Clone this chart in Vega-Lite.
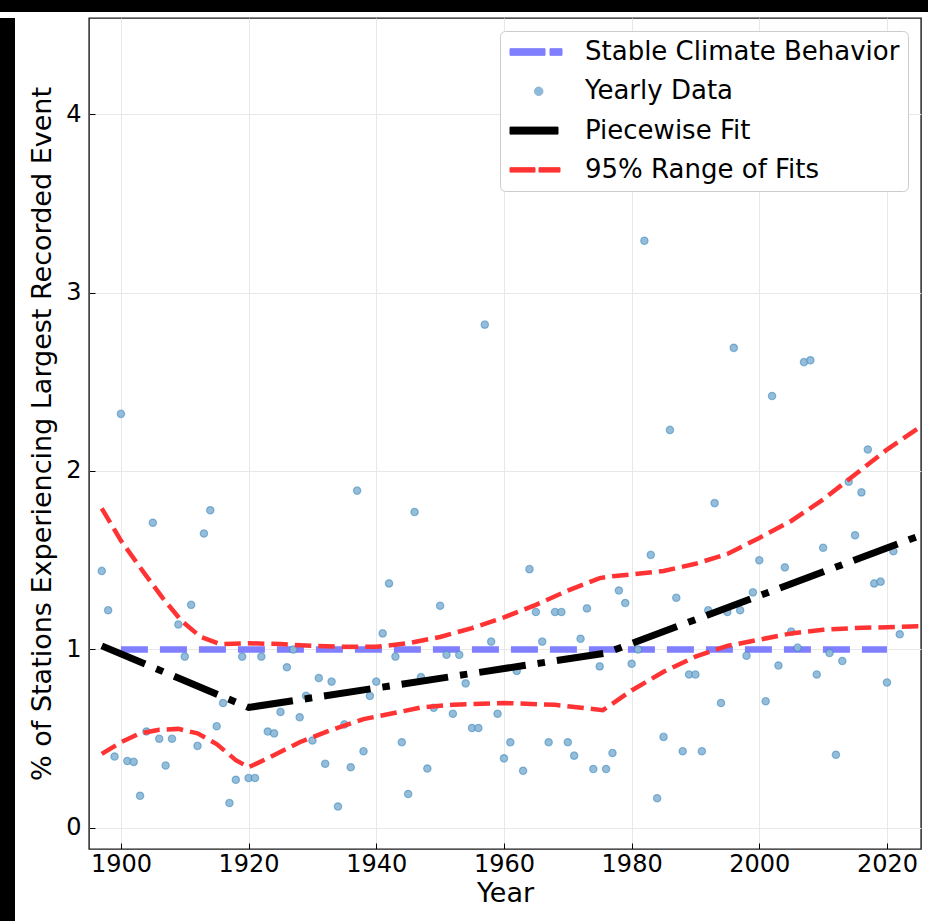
{
  "$schema": "https://vega.github.io/schema/vega-lite/v6.json",
  "background": "white",
  "padding": 0,
  "spacing": 5,
  "resolve": {"scale": {"color": "independent"}, "legend": {"color": "independent"}},
  "config": {
    "view": {"stroke": null},
    "font": "DejaVu Sans",
    "axis": {
      "labelFont": "DejaVu Sans", "labelFontSize": 24, "labelColor": "black",
      "titleFont": "DejaVu Sans", "titleFontSize": 27, "titleFontWeight": "normal", "titleColor": "black",
      "domain": false,
      "grid": true, "gridColor": "#e8e8e8", "gridWidth": 1,
      "ticks": true, "tickColor": "black", "tickSize": -6, "tickWidth": 1
    },
    "legend": {
      "orient": "top-right", "offset": 13, "padding": 8, "rowPadding": 13.3,
      "symbolSize": 400, "symbolStrokeWidth": 0,
      "labelFont": "DejaVu Sans", "labelFontSize": 26, "labelColor": "black",
      "labelOffset": 51, "labelLimit": 600,
      "fillColor": "white", "strokeColor": "#cccccc", "cornerRadius": 5, "strokeWidth": 1
    }
  },
  "datasets": {
    "pts": [
      {"year":1897,"value":1.44},{"year":1898,"value":1.22},{"year":1899,"value":0.40},{"year":1900,"value":2.32},
      {"year":1901,"value":0.375},{"year":1902,"value":0.37},{"year":1903,"value":0.18},{"year":1904,"value":0.54},
      {"year":1905,"value":1.71},{"year":1906,"value":0.50},{"year":1907,"value":0.35},{"year":1908,"value":0.50},
      {"year":1909,"value":1.14},{"year":1910,"value":0.96},{"year":1911,"value":1.25},{"year":1912,"value":0.46},
      {"year":1913,"value":1.65},{"year":1914,"value":1.78},{"year":1915,"value":0.57},{"year":1916,"value":0.70},
      {"year":1917,"value":0.14},{"year":1918,"value":0.27},{"year":1919,"value":0.96},{"year":1920,"value":0.28},
      {"year":1921,"value":0.28},{"year":1922,"value":0.96},{"year":1923,"value":0.54},{"year":1924,"value":0.53},
      {"year":1925,"value":0.65},{"year":1926,"value":0.90},{"year":1927,"value":1.00},{"year":1928,"value":0.62},
      {"year":1929,"value":0.74},{"year":1930,"value":0.49},{"year":1931,"value":0.84},{"year":1932,"value":0.36},
      {"year":1933,"value":0.82},{"year":1934,"value":0.12},{"year":1935,"value":0.58},{"year":1936,"value":0.34},
      {"year":1937,"value":1.89},{"year":1938,"value":0.43},{"year":1939,"value":0.74},{"year":1940,"value":0.82},
      {"year":1941,"value":1.09},{"year":1942,"value":1.37},{"year":1943,"value":0.96},{"year":1944,"value":0.48},
      {"year":1945,"value":0.19},{"year":1946,"value":1.77},{"year":1947,"value":0.845},{"year":1948,"value":0.333},
      {"year":1949,"value":0.673},{"year":1950,"value":1.245},{"year":1951,"value":0.97},{"year":1952,"value":0.64},
      {"year":1953,"value":0.97},{"year":1954,"value":0.81},{"year":1955,"value":0.56},{"year":1956,"value":0.56},
      {"year":1957,"value":2.82},{"year":1958,"value":1.044},{"year":1959,"value":0.64},{"year":1960,"value":0.39},
      {"year":1961,"value":0.48},{"year":1962,"value":0.88},{"year":1963,"value":0.32},{"year":1964,"value":1.45},
      {"year":1965,"value":1.21},{"year":1966,"value":1.044},{"year":1967,"value":0.48},{"year":1968,"value":1.21},
      {"year":1969,"value":1.21},{"year":1970,"value":0.48},{"year":1971,"value":0.405},{"year":1972,"value":1.06},
      {"year":1973,"value":1.23},{"year":1974,"value":0.33},{"year":1975,"value":0.905},{"year":1976,"value":0.33},
      {"year":1977,"value":0.42},{"year":1978,"value":1.33},{"year":1979,"value":1.26},{"year":1980,"value":0.92},
      {"year":1981,"value":1.0},{"year":1982,"value":3.29},{"year":1983,"value":1.53},{"year":1984,"value":0.166},
      {"year":1985,"value":0.51},{"year":1986,"value":2.23},{"year":1987,"value":1.29},{"year":1988,"value":0.43},
      {"year":1989,"value":0.86},{"year":1990,"value":0.86},{"year":1991,"value":0.43},{"year":1992,"value":1.22},
      {"year":1993,"value":1.82},{"year":1994,"value":0.70},{"year":1995,"value":1.21},{"year":1996,"value":2.69},
      {"year":1997,"value":1.22},{"year":1998,"value":0.965},{"year":1999,"value":1.32},{"year":2000,"value":1.50},
      {"year":2001,"value":0.71},{"year":2002,"value":2.42},{"year":2003,"value":0.91},{"year":2004,"value":1.46},
      {"year":2005,"value":1.10},{"year":2006,"value":1.01},{"year":2007,"value":2.61},{"year":2008,"value":2.62},
      {"year":2009,"value":0.86},{"year":2010,"value":1.57},{"year":2011,"value":0.98},{"year":2012,"value":0.41},
      {"year":2013,"value":0.935},{"year":2014,"value":1.94},{"year":2015,"value":1.64},{"year":2016,"value":1.88},
      {"year":2017,"value":2.12},{"year":2018,"value":1.37},{"year":2019,"value":1.38},{"year":2020,"value":0.815},
      {"year":2021,"value":1.55},{"year":2022,"value":1.085}
    ],
    "stable": [
      {"year":1900,"value":1,"series":"Stable Climate Behavior"},
      {"year":2020,"value":1,"series":"Stable Climate Behavior"}
    ],
    "fit": [
      {"year":1897,"value":1.02,"series":"Piecewise Fit"},
      {"year":1920,"value":0.675,"series":"Piecewise Fit"},
      {"year":1976,"value":0.98,"series":"Piecewise Fit"},
      {"year":2025.33,"value":1.64,"series":"Piecewise Fit"}
    ],
    "range": [
      {"year":1897,"value":1.79,"bound":"upper"},{"year":1900,"value":1.61,"bound":"upper"},{"year":1903,"value":1.46,"bound":"upper"},
      {"year":1906.5,"value":1.29,"bound":"upper"},{"year":1909.5,"value":1.16,"bound":"upper"},{"year":1912.5,"value":1.07,"bound":"upper"},
      {"year":1915.5,"value":1.03,"bound":"upper"},{"year":1920,"value":1.035,"bound":"upper"},{"year":1925,"value":1.03,"bound":"upper"},
      {"year":1930,"value":1.02,"bound":"upper"},{"year":1935,"value":1.015,"bound":"upper"},{"year":1940,"value":1.015,"bound":"upper"},
      {"year":1945,"value":1.035,"bound":"upper"},{"year":1950,"value":1.07,"bound":"upper"},{"year":1955,"value":1.12,"bound":"upper"},
      {"year":1960,"value":1.18,"bound":"upper"},{"year":1965,"value":1.25,"bound":"upper"},{"year":1970,"value":1.33,"bound":"upper"},
      {"year":1975,"value":1.40,"bound":"upper"},{"year":1977,"value":1.41,"bound":"upper"},{"year":1980,"value":1.42,"bound":"upper"},
      {"year":1985,"value":1.44,"bound":"upper"},{"year":1990,"value":1.48,"bound":"upper"},{"year":1995,"value":1.535,"bound":"upper"},
      {"year":2000,"value":1.625,"bound":"upper"},{"year":2005,"value":1.72,"bound":"upper"},{"year":2010,"value":1.84,"bound":"upper"},
      {"year":2015,"value":1.98,"bound":"upper"},{"year":2020,"value":2.12,"bound":"upper"},{"year":2025.33,"value":2.25,"bound":"upper"},
      {"year":1897,"value":0.415,"bound":"lower"},{"year":1900,"value":0.48,"bound":"lower"},{"year":1903,"value":0.53,"bound":"lower"},
      {"year":1906,"value":0.55,"bound":"lower"},{"year":1909,"value":0.555,"bound":"lower"},{"year":1912,"value":0.53,"bound":"lower"},
      {"year":1915,"value":0.47,"bound":"lower"},{"year":1918,"value":0.38,"bound":"lower"},{"year":1920,"value":0.34,"bound":"lower"},
      {"year":1923,"value":0.39,"bound":"lower"},{"year":1928,"value":0.48,"bound":"lower"},{"year":1933,"value":0.55,"bound":"lower"},
      {"year":1938,"value":0.61,"bound":"lower"},{"year":1943,"value":0.645,"bound":"lower"},{"year":1947,"value":0.675,"bound":"lower"},
      {"year":1952,"value":0.69,"bound":"lower"},{"year":1960,"value":0.70,"bound":"lower"},{"year":1968,"value":0.69,"bound":"lower"},
      {"year":1975.5,"value":0.66,"bound":"lower"},{"year":1980,"value":0.77,"bound":"lower"},{"year":1985,"value":0.875,"bound":"lower"},
      {"year":1990,"value":0.96,"bound":"lower"},{"year":1995,"value":1.02,"bound":"lower"},{"year":2000,"value":1.055,"bound":"lower"},
      {"year":2005,"value":1.09,"bound":"lower"},{"year":2010,"value":1.11,"bound":"lower"},{"year":2015,"value":1.12,"bound":"lower"},
      {"year":2020,"value":1.125,"bound":"lower"},{"year":2025.33,"value":1.13,"bound":"lower"}
    ]
  },
  "vconcat": [
    {
      "width": 928, "height": 12,
      "data": {"values": [{}]},
      "mark": {"type": "point", "opacity": 0},
      "encoding": {},
      "view": {"fill": "black", "stroke": null}
    },
    {
      "spacing": 13,
      "resolve": {"scale": {"color": "independent"}, "legend": {"color": "independent"}},
      "hconcat": [
        {
          "width": 15, "height": 904,
          "data": {"values": [{}]},
          "mark": {"type": "point", "opacity": 0},
          "encoding": {},
          "view": {"fill": "black", "stroke": null}
        },
        {
          "width": 832, "height": 831,
          "view": {"fill": "white", "stroke": "#1a1a1a", "strokeWidth": 1.4},
          "encoding": {
            "x": {
              "field": "year", "type": "quantitative",
              "scale": {"domain": [1895, 2025.33], "nice": false, "zero": false},
              "axis": {"title": "Year", "values": [1900,1920,1940,1960,1980,2000,2020], "format": "d",
                       "labelPadding": 9, "titlePadding": 4}
            },
            "y": {
              "field": "value", "type": "quantitative",
              "scale": {"domain": [-0.118, 4.538], "nice": false, "zero": false},
              "axis": {"title": "% of Stations Experiencing Largest Recorded Event", "values": [0,1,2,3,4],
                       "labelPadding": 14, "titlePadding": 9}
            },
            "color": {
              "field": "series", "type": "nominal",
              "scale": {
                "domain": ["Stable Climate Behavior", "Yearly Data", "Piecewise Fit", "95% Range of Fits"],
                "range": ["#7f7fff", "#8fb9d8", "black", "#ff3333"]
              },
              "legend": {
                "title": null,
                "encode": {
                  "symbols": {
                    "update": {
                      "shape": {"signal": "datum.value === 'Stable Climate Behavior' ? 'M-1.1,-0.33H2.4V0.33H-1.1Z M2.9,-0.33H4.1V0.33H2.9Z' : datum.value === 'Yearly Data' ? 'M2.2,0A0.43,0.43,0,1,1,1.34,0A0.43,0.43,0,1,1,2.2,0Z' : datum.value === 'Piecewise Fit' ? 'M-1.1,-0.35H3.7V0.35H-1.1Z' : 'M-1.1,-0.22H1.4V0.22H-1.1Z M1.8,-0.22H3.9V0.22H1.8Z'"},
                      "fill": {"signal": "datum.value === 'Stable Climate Behavior' ? '#7f7fff' : datum.value === 'Yearly Data' ? '#9fc0de' : datum.value === 'Piecewise Fit' ? 'black' : '#ff3333'"},
                      "stroke": {"signal": "datum.value === 'Yearly Data' ? '#6f9cc6' : 'transparent'"},
                      "strokeWidth": {"value": 1},
                      "size": {"value": 400},
                      "opacity": {"value": 1},
                      "fillOpacity": {"value": 1},
                      "strokeOpacity": {"value": 1}
                    }
                  }
                }
              }
            }
          },
          "layer": [
            {
              "data": {"name": "stable"},
              "mark": {"type": "line", "strokeWidth": 6.5, "strokeDash": [27, 12], "clip": true}
            },
            {
              "data": {"name": "pts"},
              "transform": [{"calculate": "'Yearly Data'", "as": "series"}],
              "mark": {"type": "point", "filled": true, "size": 55, "fillOpacity": 0.95, "opacity": 1,
                       "stroke": "#1f77b4", "strokeOpacity": 0.45, "strokeWidth": 1.2}
            },
            {
              "data": {"name": "fit"},
              "mark": {"type": "line", "strokeWidth": 7, "strokeDash": [47, 12, 7.5, 12], "clip": true}
            },
            {
              "data": {"name": "range"},
              "transform": [{"calculate": "'95% Range of Fits'", "as": "series"}],
              "mark": {"type": "line", "strokeWidth": 4.5, "strokeDash": [16.5, 7], "clip": true},
              "encoding": {"detail": {"field": "bound", "type": "nominal"}}
            }
          ]
        }
      ]
    }
  ]
}
